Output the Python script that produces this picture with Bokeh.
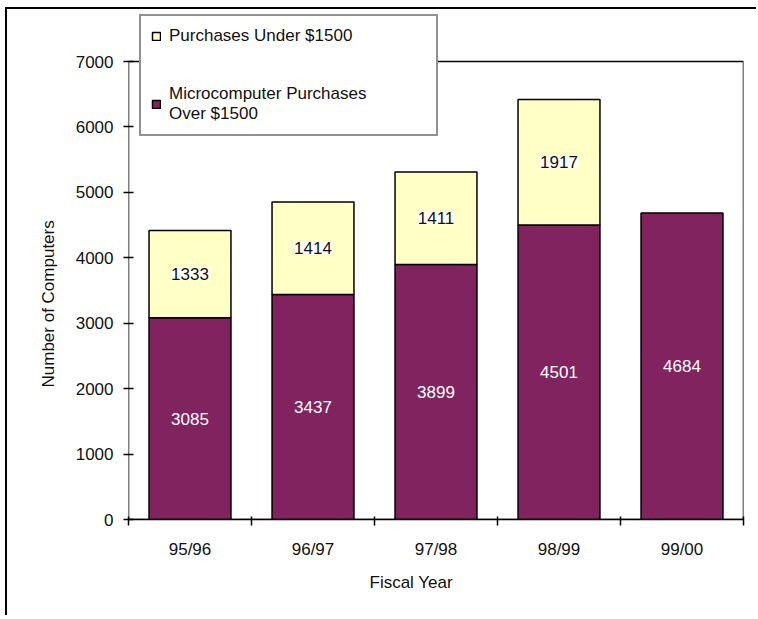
from bokeh.plotting import figure
from bokeh.models import (ColumnDataSource, Range1d, FixedTicker, Legend,
                          LegendItem, LabelSet, Title)
from bokeh.core.properties import value
from bokeh.embed import file_html
from bokeh.resources import INLINE

# ---------------- data ----------------
years = ["95/96", "96/97", "97/98", "98/99", "99/00"]
over_1500 = [3085, 3437, 3899, 4501, 4684]
under_1500 = [1333, 1414, 1411, 1917, None]
y_ticks = [0, 1000, 2000, 3000, 4000, 5000, 6000, 7000]

PURPLE = "#80235F"
YELLOW = "#FFFFC6"
FONT = "Liberation Sans"
FS = "17px"
TXT = "#111111"

# ---------------- layout ----------------
W, H = 751, 608
ML, MR, MT, MB = 121, 15, 2, 98
FRAME_H = H - MT - MB          # frame extends above the plot box so the legend fits
PLOT_H = 458                   # pixel height of the plot box (0 .. last y tick)
y_end = y_ticks[-1] * FRAME_H / PLOT_H

p = figure(width=W, height=H, output_backend="svg", toolbar_location=None,
           x_range=Range1d(0, len(years)), y_range=Range1d(0, y_end),
           min_border_left=ML, min_border_right=MR,
           min_border_top=MT, min_border_bottom=MB)
p.styles = {"margin-left": "5px", "margin-top": "7px",
            "border-top": "2px solid black", "border-left": "2px solid black"}
p.xgrid.visible = False
p.ygrid.visible = False
p.outline_line_color = None
p.background_fill_color = "white"

xs = [i + 0.5 for i in range(len(years))]

src_over = ColumnDataSource(dict(
    x=xs, top=over_1500,
    mid=[v / 2 for v in over_1500],
    label=[str(v) for v in over_1500]))

idx = [i for i, v in enumerate(under_1500) if v is not None]
src_under = ColumnDataSource(dict(
    x=[xs[i] for i in idx],
    bottom=[over_1500[i] for i in idx],
    top=[over_1500[i] + under_1500[i] for i in idx],
    mid=[over_1500[i] + under_1500[i] / 2 for i in idx],
    label=[str(under_1500[i]) for i in idx]))

# plot-area box (0 .. number of categories, 0 .. last tick)
p.quad(left=[0], right=[len(years)], bottom=[y_ticks[0]], top=[y_ticks[-1]],
       fill_color=None, line_color="black", line_width=1.5)

r_over = p.vbar(x="x", top="top", bottom=0, width=0.666, source=src_over,
                fill_color=PURPLE, line_color="black", line_width=1.5)
r_under = p.vbar(x="x", top="top", bottom="bottom", width=0.666, source=src_under,
                 fill_color=YELLOW, line_color="black", line_width=1.5)

p.add_layout(LabelSet(x="x", y="mid", text="label", source=src_over,
                      text_align="center", text_baseline="middle",
                      text_color="white", text_font=value(FONT),
                      text_font_size=value(FS)))
p.add_layout(LabelSet(x="x", y="mid", text="label", source=src_under,
                      text_align="center", text_baseline="middle",
                      text_color=TXT, text_font=value(FONT),
                      text_font_size=value(FS),
                      background_fill_color="white"))

# ---------------- axes ----------------
ya = p.yaxis[0]
ya.ticker = FixedTicker(ticks=y_ticks)
ya.major_tick_in = 5
ya.major_tick_out = 5
ya.minor_tick_in = 0
ya.minor_tick_out = 0
ya.axis_line_color = None
ya.major_tick_line_color = "black"
ya.major_tick_line_width = 1.5
ya.major_label_standoff = 10
ya.major_label_text_font = FONT
ya.major_label_text_font_size = FS
ya.major_label_text_color = TXT

xa = p.xaxis[0]
xa.ticker = FixedTicker(ticks=xs, minor_ticks=list(range(len(years) + 1)))
xa.major_label_overrides = {x: y for x, y in zip(xs, years)}
xa.major_tick_in = 0
xa.major_tick_out = 0
xa.minor_tick_in = 3
xa.minor_tick_out = 6
xa.minor_tick_line_color = "black"
xa.minor_tick_line_width = 1.5
xa.axis_line_width = 1.5
xa.axis_line_color = "black"
xa.major_label_standoff = 14
xa.major_label_text_font = FONT
xa.major_label_text_font_size = FS
xa.major_label_text_color = TXT

# axis titles
p.add_layout(Title(text="Fiscal Year", align="left", offset=241, standoff=18,
                   text_font=FONT, text_font_size=FS, text_font_style="normal",
                   text_color=TXT), "below")
p.add_layout(Title(text="Number of Computers", align="left", offset=132,
                   standoff=29, text_font=FONT, text_font_size=FS,
                   text_font_style="normal", text_color=TXT), "left")

# ---------------- legend ----------------
legend = Legend(items=[
    LegendItem(label="Purchases Under $1500", renderers=[r_under]),
    LegendItem(label="Microcomputer Purchases\nOver $1500", renderers=[r_over]),
], location=(11, 383))
legend.border_line_color = "#222222"
legend.border_line_width = 2
legend.background_fill_color = "white"
legend.background_fill_alpha = 1
legend.glyph_width = 10
legend.glyph_height = 10
legend.label_standoff = 8
legend.label_width = 257
legend.label_text_font = FONT
legend.label_text_font_size = FS
legend.label_text_line_height = 1.4
legend.label_text_color = TXT
legend.padding = 10
legend.spacing = 38
legend.margin = 0
p.add_layout(legend)

open("out.html", "w").write(file_html(p, INLINE))
